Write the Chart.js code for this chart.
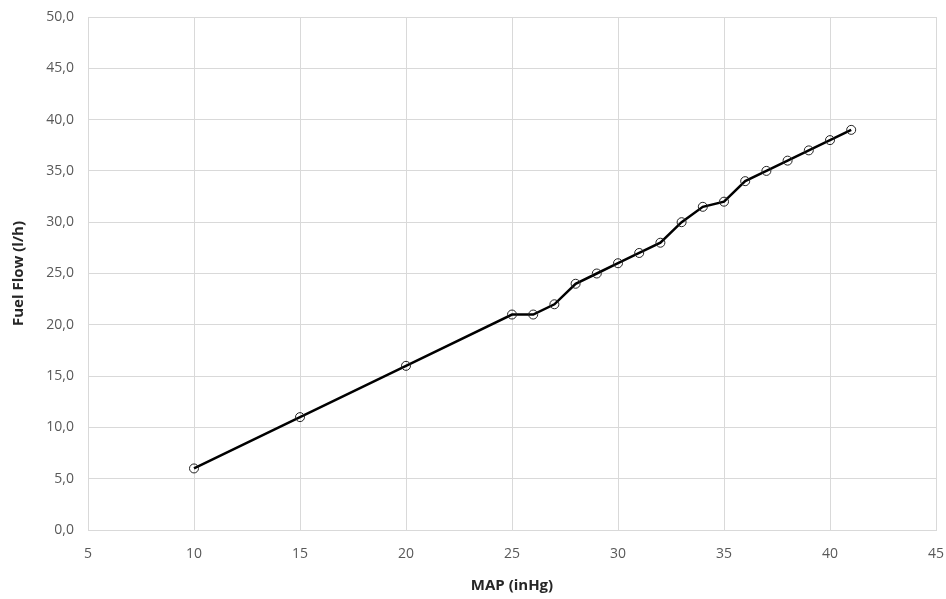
<!DOCTYPE html>
<html>
<head>
<meta charset="utf-8">
<script src="https://cdn.jsdelivr.net/npm/chart.js@4"></script>
<style>
  html, body { margin: 0; padding: 0; background: #fff; }
  #wrap { width: 946px; height: 599px; }
</style>
</head>
<body>
<div id="wrap"><canvas id="chart"></canvas></div>
<script>
  // MAP (inHg) against fuel flow (l/h)
  const mapValues = [10, 15, 20, 25, 26, 27, 28, 29, 30, 31, 32, 33, 34, 35, 36, 37, 38, 39, 40, 41];
  const fuelFlow = [6, 11, 16, 21, 21, 22, 24, 25, 26, 27, 28, 30, 31.5, 32, 34, 35, 36, 37, 38, 39];

  const xMin = 5, xMax = 45, xStep = 5;
  const yMin = 0, yMax = 50, yStep = 5;

  const fontFamily = '"Open Sans", "DejaVu Sans", sans-serif';
  const gridColor = '#d9d9d9';
  const tickColor = '#595959';

  function commaDecimal(v) {
    return v.toFixed(1).replace('.', ',');
  }

  // drop the extra room Chart.js keeps for edge labels, so layout.padding decides the frame
  function noEdgePadding(s) {
    s.paddingTop = 0; s.paddingBottom = 0; s.paddingLeft = 0; s.paddingRight = 0;
  }

  const points = mapValues.map((x, i) => ({ x: x, y: fuelFlow[i] }));

  new Chart(document.getElementById('chart'), {
    type: 'scatter',
    data: {
      datasets: [{
        data: points,
        showLine: true,
        borderColor: '#000',
        borderWidth: 2.5,
        pointRadius: 4.5,
        pointBorderWidth: 1,
        pointBorderColor: '#222',
        pointBackgroundColor: 'rgba(0,0,0,0)',
        tension: 0
      }]
    },
    options: {
      responsive: true,
      maintainAspectRatio: false,
      animation: false,
      layout: { padding: { top: 17, right: 10, left: 6, bottom: 0 } },
      plugins: { legend: { display: false }, tooltip: { enabled: false } },
      scales: {
        x: {
          type: 'linear',
          min: xMin, max: xMax,
          ticks: { stepSize: xStep, color: tickColor, font: { family: fontFamily, size: 14 }, padding: 16 },
          grid: { color: gridColor, drawTicks: false },
          border: { color: gridColor },
          title: { display: true, text: 'MAP (inHg)', color: '#262626', font: { family: fontFamily, size: 15, weight: 'bold' }, padding: { top: 2 } },
          afterFit: s => { s.height = 69; noEdgePadding(s); }
        },
        y: {
          min: yMin, max: yMax,
          ticks: { stepSize: yStep, color: tickColor, font: { family: fontFamily, size: 14 }, padding: 14, callback: v => commaDecimal(v) },
          grid: { color: gridColor, drawTicks: false },
          border: { color: gridColor },
          title: { display: true, text: 'Fuel Flow (l/h)', color: '#262626', font: { family: fontFamily, size: 15, weight: 'bold' }, padding: { bottom: 4 } },
          afterFit: s => { s.width = 82; noEdgePadding(s); }
        }
      }
    }
  });
</script>
</body>
</html>
